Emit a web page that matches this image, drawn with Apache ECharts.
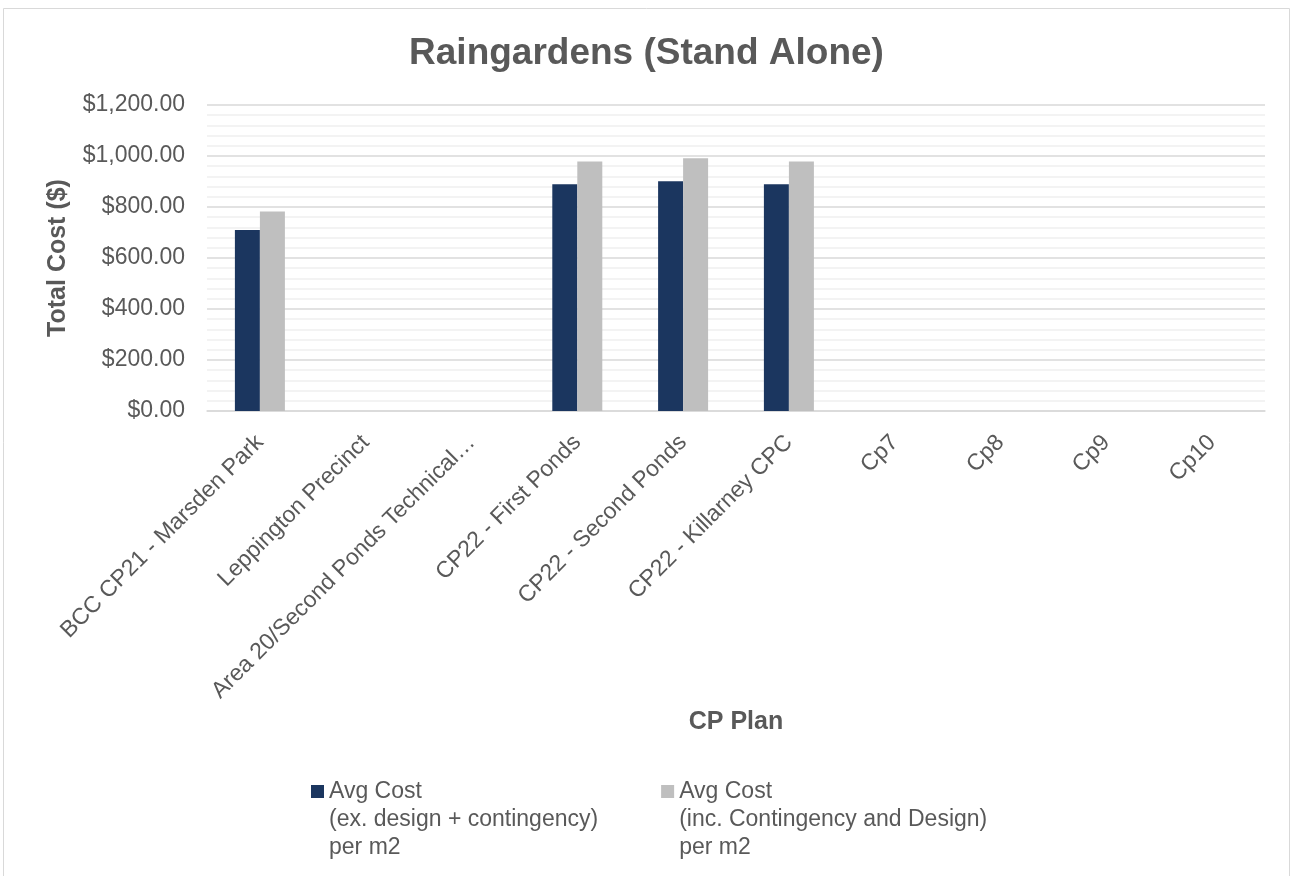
<!DOCTYPE html>
<html>
<head>
<meta charset="utf-8">
<script src="https://cdn.jsdelivr.net/npm/echarts@6/dist/echarts.min.js"></script>
<style>
  html, body { margin: 0; padding: 0; background: #ffffff; }
  #chart { width: 1293px; height: 876px; }
</style>
</head>
<body>
<div id="chart"></div>
<script>
// Contribution plan areas (x-axis)
const categories = [
  'BCC CP21 - Marsden Park',
  'Leppington Precinct',
  'Area 20/Second Ponds Technical…',
  'CP22 - First Ponds',
  'CP22 - Second Ponds',
  'CP22 - Killarney CPC',
  'Cp7',
  'Cp8',
  'Cp9',
  'Cp10'
];

// Average raingarden cost per m2, excluding design + contingency
const avgCostEx = [710, null, null, 889, 901, 889, null, null, null, null];

// Average raingarden cost per m2, including contingency and design
const avgCostInc = [782, null, null, 978, 991, 978, null, null, null, null];

const seriesNames = [
  'Avg Cost\n(ex. design + contingency)\nper m2',
  'Avg Cost\n(inc. Contingency and Design)\nper m2'
];

// Value axis range
const yMin = 0;
const yMax = 1200;
const yStep = 200;

const FONT = "'Liberation Sans', Arial, sans-serif";
const TEXT = '#595959';

function money(v) {
  return '$' + v.toFixed(2).replace(/\B(?=(\d{3})+(?!\d))/g, ',');
}

// Legend swatch: a 13px square pinned to the top of a tall item box, so it
// lines up with the first line of the three-line legend label.
const LEGEND_LINE = 28;
const SWATCH = 13;
const LEGEND_ITEM_H = 2 * (LEGEND_LINE + SWATCH / 2);
const swatchIcon = 'path://M0,0L' + SWATCH + ',0L' + SWATCH + ',' + SWATCH + 'L0,' + SWATCH + 'Z' +
  'M0,' + LEGEND_ITEM_H + 'L0.001,' + LEGEND_ITEM_H + 'L0,' + (LEGEND_ITEM_H - 0.001) + 'Z';

const chart = echarts.init(document.getElementById('chart'), null, { renderer: 'canvas' });

chart.setOption({
  backgroundColor: '#ffffff',
  animation: false,
  textStyle: { fontFamily: FONT, color: TEXT },
  graphic: [{
    type: 'rect',
    shape: { x: 3.5, y: 8.5, width: 1286, height: 880 },
    style: { fill: 'none', stroke: '#d9d9d9', lineWidth: 1 },
    silent: true
  }],
  title: {
    text: 'Raingardens (Stand Alone)',
    left: 'center',
    top: 35,
    padding: 0,
    textStyle: { fontFamily: FONT, fontSize: 37, fontWeight: 'bold', color: TEXT }
  },
  legend: {
    left: 311,
    top: 777.5,
    padding: 0,
    itemWidth: SWATCH,
    itemHeight: LEGEND_ITEM_H,
    itemGap: 63,
    icon: swatchIcon,
    selectedMode: false,
    textStyle: {
      fontFamily: FONT,
      fontSize: 23,
      color: TEXT,
      lineHeight: LEGEND_LINE
    },
    data: seriesNames
  },
  grid: {
    left: 207,
    right: 28,
    top: 105,
    bottom: 465,
    containLabel: false
  },
  xAxis: {
    type: 'category',
    data: categories,
    name: 'CP Plan',
    nameLocation: 'middle',
    nameGap: 299,
    nameTextStyle: { fontFamily: FONT, fontSize: 25, fontWeight: 'bold', color: TEXT },
    axisLine: { show: true, lineStyle: { color: '#d9d9d9', width: 1.5 } },
    axisTick: { show: false },
    axisLabel: {
      interval: 0,
      rotate: 45,
      margin: 28,
      fontFamily: FONT,
      fontSize: 23,
      color: TEXT
    },
    splitLine: { show: false }
  },
  yAxis: {
    type: 'value',
    min: yMin,
    max: yMax,
    interval: yStep,
    name: 'Total Cost ($)',
    nameLocation: 'middle',
    nameGap: 136,
    nameTextStyle: { fontFamily: FONT, fontSize: 25, fontWeight: 'bold', color: TEXT },
    axisLine: { show: false },
    axisTick: { show: false },
    axisLabel: {
      margin: 22,
      fontFamily: FONT,
      fontSize: 23,
      color: TEXT,
      formatter: money
    },
    splitLine: { show: true, lineStyle: { color: '#d9d9d9', width: 1.5 } },
    minorTick: { show: false, splitNumber: 5 },
    minorSplitLine: { show: true, lineStyle: { color: '#f0f0f0', width: 1.5 } }
  },
  series: [
    {
      name: seriesNames[0],
      type: 'bar',
      data: avgCostEx,
      barWidth: 25,
      barGap: '0%',
      itemStyle: { color: '#1b365f' }
    },
    {
      name: seriesNames[1],
      type: 'bar',
      data: avgCostInc,
      barWidth: 25,
      barGap: '0%',
      itemStyle: { color: '#bfbfbf' }
    }
  ]
});
</script>
</body>
</html>
